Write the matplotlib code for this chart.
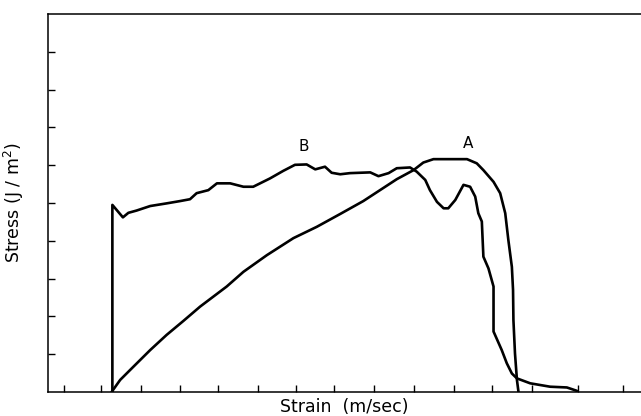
import matplotlib
matplotlib.use("Agg")
import matplotlib.pyplot as plt

# Curve A (smooth)
a_x = [1.63, 1.85, 2.19, 2.62, 3.04, 3.47, 3.90, 4.58, 5.01, 5.61, 6.29, 6.89, 7.49,
       8.08, 8.51, 8.94, 9.37, 9.62, 9.88, 10.74, 10.99, 11.16, 11.42, 11.59, 11.72,
       11.80, 11.89, 11.92, 11.93, 11.97, 12.02, 12.06]
a_y = [0.00, 0.32, 0.67, 1.11, 1.51, 1.88, 2.26, 2.79, 3.18, 3.62, 4.07, 4.37, 4.71,
       5.05, 5.34, 5.63, 5.87, 6.07, 6.16, 6.16, 6.05, 5.87, 5.56, 5.26, 4.73,
       4.02, 3.31, 2.70, 1.90, 1.02, 0.32, 0.00]

# Curve B (noisy)
b_x = [1.65, 1.65, 1.92, 2.06, 2.27, 2.62, 3.04, 3.38, 3.64, 3.81, 4.11, 4.33, 4.67,
       5.01, 5.26, 5.69, 6.03, 6.33, 6.63, 6.85, 7.10, 7.27, 7.49, 7.74, 8.26, 8.47,
       8.73, 8.94, 9.28, 9.45, 9.67, 9.79, 9.97, 10.14, 10.26, 10.44, 10.65, 10.82,
       10.95, 11.03, 11.12, 11.16, 11.29, 11.42, 11.42, 11.63, 11.76, 11.89, 12.02,
       12.36, 12.87, 13.30, 13.56]
b_y = [0.00, 4.95, 4.62, 4.74, 4.80, 4.92, 4.99, 5.05, 5.10, 5.26, 5.34, 5.52, 5.52,
       5.43, 5.43, 5.65, 5.85, 6.01, 6.02, 5.89, 5.96, 5.80, 5.76, 5.79, 5.81, 5.71,
       5.79, 5.92, 5.94, 5.83, 5.61, 5.34, 5.03, 4.86, 4.86, 5.08, 5.48, 5.43,
       5.17, 4.73, 4.51, 3.58, 3.27, 2.79, 1.60, 1.11, 0.76, 0.49, 0.36,
       0.23, 0.14, 0.12, 0.03]

x_ticks = [0.41, 1.36, 2.38, 3.38, 4.36, 5.38, 6.36, 7.33, 8.36, 9.38, 10.41, 11.38,
           12.41, 13.59, 14.74]
y_ticks = [1, 2, 3, 4, 5, 6, 7, 8, 9]

fig = plt.figure(figsize=(6.41, 4.16), dpi=100)
ax = fig.add_axes([48 / 641, 24 / 416, 1 - 48 / 641, 378 / 416])

ax.plot(a_x, a_y, color="black", lw=1.9, solid_joinstyle="round", solid_capstyle="round")
ax.plot(b_x, b_y, color="black", lw=1.9, solid_joinstyle="round", solid_capstyle="round")

ax.text(6.55, 6.3, "B", ha="center", va="bottom", fontsize=11)
ax.text(10.78, 6.38, "A", ha="center", va="bottom", fontsize=11)

ax.set_xlim(0, 15.2)
ax.set_ylim(0, 10)
ax.set_xticks(x_ticks)
ax.set_yticks(y_ticks)
ax.set_xticklabels([])
ax.set_yticklabels([])
ax.tick_params(direction="in", length=5, width=1, colors="black")
ax.spines["right"].set_visible(False)
for s in ["left", "bottom", "top"]:
    ax.spines[s].set_linewidth(1.1)

ax.set_xlabel("Strain  (m/sec)", fontsize=12.5, labelpad=1)
ax.set_ylabel("Stress (J / m$^{2}$)", fontsize=12.5, labelpad=12)

fig.savefig("out.png", dpi=100)
